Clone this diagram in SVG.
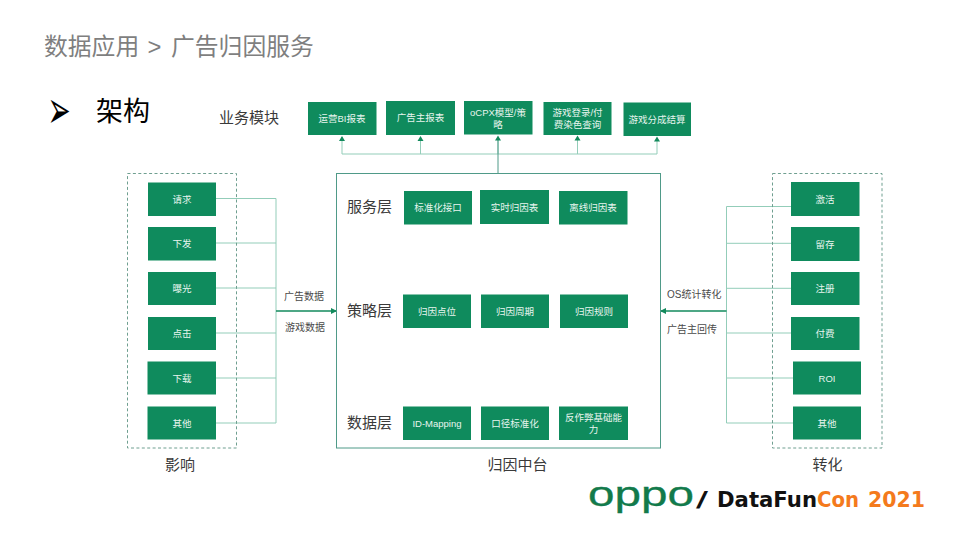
<svg xmlns="http://www.w3.org/2000/svg" width="960" height="540" viewBox="0 0 960 540">
<style>
text{font-family:"Liberation Sans","Noto Sans CJK SC",sans-serif}
.box rect{fill:#0f8b5d}
.box text{fill:#e8f5ef;font-size:9.5px;text-anchor:middle}
.lay{fill:#3a3a3a;font-size:15px}
.cap{fill:#3a3a3a;font-size:15px;text-anchor:middle}
.sm{fill:#4a4a4a;font-size:10px}
.thin{fill:none;stroke:#93cdb9;stroke-width:1}
.main{fill:none;stroke:#128a5c;stroke-width:1.4}
.dash{fill:none;stroke:#6f9f90;stroke-width:1;stroke-dasharray:3 2.4}
.frame{fill:none;stroke:#4f9a88;stroke-width:1}
.logo{font-family:"DejaVu Sans",sans-serif;font-weight:700;font-size:22px}
</style>
<defs>
<marker id="ah" markerWidth="6" markerHeight="6" refX="5" refY="3" orient="auto" markerUnits="userSpaceOnUse"><path d="M0 0L6 3L0 6Z" fill="#128a5c"/></marker>
</defs>
<rect width="960" height="540" fill="#fff"/>
<text id="title" y="55" font-size="23.8" fill="#7f7f7f"><tspan x="44">数据应用</tspan><tspan x="147.500">&gt;</tspan><tspan x="171">广告归因服务</tspan></text>
<text id="bullet" transform="translate(47.500 128) scale(1.2 2.3)" font-size="23" fill="#000" style="font-family:'DejaVu Sans',sans-serif">➢</text>
<text id="heading" x="96" y="121" font-size="27" fill="#000">架构</text>
<text id="label-modules" class="cap" x="249" y="123">业务模块</text>

<g id="connectors">
<path class="thin" d="M342 154H657M342 154V137M420.500 154V137M577.500 154V137M657 154V138M498 154V137"/>
<path class="frame" d="M498 173V137" stroke-width="1.200"/>
<path class="thin" d="M216 198.500H276M216 243H276M216 288H276M216 333H276M216 378H276M216 423H276M276 198.500V423"/>
<path class="main" d="M276 311H336" marker-end="url(#ah)"/>
<path class="thin" d="M791 206.500H726.500M791 243.300H726.500M791 288.300H726.500M791 333H726.500M793 378H726.500M793 423H726.500M726.500 206.500V423"/>
<path class="main" d="M726.500 311H661" marker-end="url(#ah)"/>
<path d="M342 136L339 141H345ZM420.500 136L417.500 141H423.500ZM498 135.500L495 140.500H501ZM577.500 135.500L574.500 140.500H580.500ZM657 136.500L654 141.500H660Z" fill="#128a5c"/>
</g>

<rect id="group-left" class="dash" x="127.500" y="173.500" width="109" height="274.500"/>
<rect id="group-right" class="dash" x="772.500" y="173.500" width="109.500" height="274.500"/>
<rect id="group-center" class="frame" x="336.500" y="173.500" width="324" height="274.500"/>

<g id="top-1" class="box"><rect x="308" y="102" width="68.500" height="33"/><text x="342" y="121.500">运营BI报表</text></g>
<g id="top-2" class="box"><rect x="386" y="101" width="69" height="34"/><text x="420.500" y="121">广告主报表</text></g>
<g id="top-3" class="box"><rect x="464" y="101" width="68.500" height="33.500"/><text x="498" y="116"><tspan x="498">oCPX模型/策</tspan><tspan x="498" dy="12">略</tspan></text></g>
<g id="top-4" class="box"><rect x="543.500" y="102" width="68" height="33"/><text x="577.500" y="116"><tspan x="577.500">游戏登录/付</tspan><tspan x="577.500" dy="12">费染色查询</tspan></text></g>
<g id="top-5" class="box"><rect x="623.500" y="102.500" width="67.500" height="33.500"/><text x="657" y="122.500">游戏分成结算</text></g>

<g id="left-1" class="box"><rect x="148" y="182.500" width="68" height="33.500"/><text x="182" y="202.500">请求</text></g>
<g id="left-2" class="box"><rect x="148" y="227" width="68" height="33.500"/><text x="182" y="247">下发</text></g>
<g id="left-3" class="box"><rect x="148" y="272" width="68" height="33"/><text x="182" y="292">曝光</text></g>
<g id="left-4" class="box"><rect x="148" y="317" width="68" height="33"/><text x="182" y="337">点击</text></g>
<g id="left-5" class="box"><rect x="147.500" y="361.500" width="68.500" height="33"/><text x="182" y="381.500">下载</text></g>
<g id="left-6" class="box"><rect x="147.500" y="406.500" width="68.500" height="33"/><text x="182" y="426.500">其他</text></g>

<g id="right-1" class="box"><rect x="791" y="182" width="68.500" height="34"/><text x="825" y="202.500">激活</text></g>
<g id="right-2" class="box"><rect x="791" y="227" width="68.500" height="34"/><text x="825" y="247.500">留存</text></g>
<g id="right-3" class="box"><rect x="791" y="272" width="68.500" height="33"/><text x="825" y="292">注册</text></g>
<g id="right-4" class="box"><rect x="791" y="317" width="68.500" height="33"/><text x="825" y="337">付费</text></g>
<g id="right-5" class="box"><rect x="793" y="361.500" width="68" height="33"/><text x="827" y="381.500">ROI</text></g>
<g id="right-6" class="box"><rect x="793" y="406.500" width="68" height="33"/><text x="827" y="426.500">其他</text></g>

<g id="svc-1" class="box"><rect x="404" y="191" width="68" height="33.500"/><text x="438" y="211">标准化接口</text></g>
<g id="svc-2" class="box"><rect x="480" y="190" width="69" height="34"/><text x="514.500" y="210.500">实时归因表</text></g>
<g id="svc-3" class="box"><rect x="559" y="191" width="68.500" height="33.500"/><text x="593" y="211">离线归因表</text></g>
<g id="str-1" class="box"><rect x="403" y="294.500" width="68" height="33.500"/><text x="437" y="314.500">归因点位</text></g>
<g id="str-2" class="box"><rect x="481" y="294.500" width="68" height="33.500"/><text x="515" y="314.500">归因周期</text></g>
<g id="str-3" class="box"><rect x="560" y="294.500" width="68" height="33.500"/><text x="594" y="314.500">归因规则</text></g>
<g id="dat-1" class="box"><rect x="403" y="406.500" width="68" height="33.500"/><text x="437" y="426.500">ID-Mapping</text></g>
<g id="dat-2" class="box"><rect x="481" y="406.500" width="68" height="33.500"/><text x="515" y="426.500">口径标准化</text></g>
<g id="dat-3" class="box"><rect x="559" y="406.500" width="69" height="33.500"/><text x="593.500" y="421"><tspan x="593.500">反作弊基础能</tspan><tspan x="593.500" dy="11.500">力</tspan></text></g>

<text class="lay" x="347" y="212">服务层</text>
<text class="lay" x="347" y="316">策略层</text>
<text class="lay" x="347" y="428">数据层</text>
<text class="cap" x="180" y="470">影响</text>
<text class="cap" x="517.500" y="470">归因中台</text>
<text class="cap" x="827.500" y="470">转化</text>
<text class="sm" x="284" y="299.500">广告数据</text>
<text class="sm" x="285" y="330.500">游戏数据</text>
<text class="sm" x="667" y="297.500">OS统计转化</text>
<text class="sm" x="667" y="332.500">广告主回传</text>

<g id="logo">
<text x="588" y="506" font-size="35" fill="#127a4b" stroke="#127a4b" stroke-width="0.300" textLength="106" lengthAdjust="spacingAndGlyphs">oppo</text>
<text class="logo" x="696" y="507" fill="#111" textLength="12" lengthAdjust="spacingAndGlyphs">/</text>
<text class="logo" x="717" y="507" fill="#111" textLength="100" lengthAdjust="spacingAndGlyphs">DataFun</text>
<text class="logo" x="817" y="507" fill="#f47a1c" textLength="42" lengthAdjust="spacingAndGlyphs">Con</text>
<text class="logo" x="868" y="507" fill="#f47a1c" textLength="57" lengthAdjust="spacingAndGlyphs">2021</text>
</g>
</svg>
